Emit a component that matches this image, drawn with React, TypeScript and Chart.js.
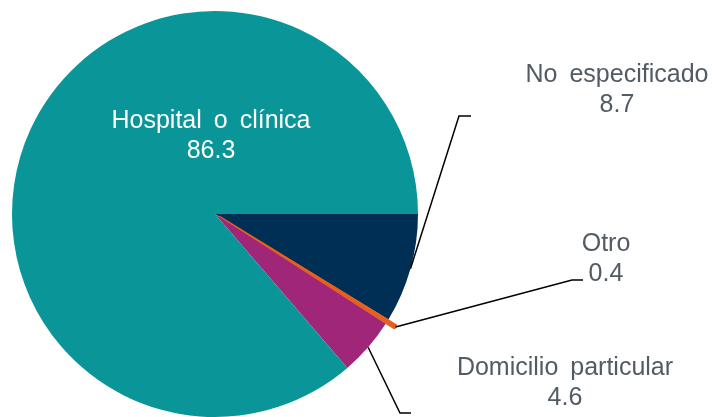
import React, { useEffect, useRef } from "react";
import { Chart, registerables } from "chart.js";

Chart.register(...registerables);

// ---- data ----
const categories = ["No especificado", "Otro", "Domicilio particular", "Hospital o clínica"];
const values = [8.7, 0.4, 4.6, 86.3];
const valueLabels = ["8.7", "0.4", "4.6", "86.3"];

// ---- styles ----
const sliceColors = ["#002F56", "#E8601C", "#A0267A", "#0A9699"];
const sliceOffsets = [0, 20, 0, 0];
const sliceBorders = [0, 2, 0, 0];
const labelColor = "#525A63";
const FONT = "25px 'Liberation Sans', Arial, sans-serif";

// label layout, in px relative to the pie centre: text centre x, first baseline y,
// leader elbow and leader end (null = label inside the pie, no leader)
const labelLayout = [
  { tx: 402, ty: -132, elbow: [244, -98], end: [256, -98], color: labelColor },
  { tx: 391, ty: 37, elbow: [357, 66], end: [368, 66], color: labelColor },
  { tx: 350, ty: 161, elbow: [185, 199], end: [196, 199], color: labelColor },
  { tx: -4, ty: -86, elbow: null, end: null, color: "#FFFFFF" },
];
const LINE_GAP = 29.5;

const labelPlugin = {
  id: "pieLabels",
  afterDatasetsDraw(chart: any) {
    const ctx = chart.ctx;
    const meta = chart.getDatasetMeta(0);
    ctx.save();
    meta.data.forEach((el: any, i: number) => {
      const p = el.getProps(["x", "y", "startAngle", "endAngle", "outerRadius"], true);
      const lay = labelLayout[i];
      const cx = p.x;
      const cy = p.y;
      if (lay.elbow && lay.end) {
        const mid = (p.startAngle + p.endAngle) / 2;
        const ext = (el.options.offset || 0) / 2;
        const r = p.outerRadius + ext;
        const sx = cx + Math.cos(mid) * r;
        const sy = cy + Math.sin(mid) * r;
        ctx.beginPath();
        ctx.moveTo(sx, sy);
        ctx.lineTo(cx + lay.elbow[0], cy + lay.elbow[1]);
        ctx.lineTo(cx + lay.end[0], cy + lay.end[1]);
        ctx.strokeStyle = "#000000";
        ctx.lineWidth = 1.5;
        ctx.stroke();
      }
      ctx.font = FONT;
      try {
        (ctx as any).wordSpacing = "5px";
      } catch (e) {}
      ctx.fillStyle = lay.color;
      ctx.textAlign = "center";
      ctx.textBaseline = "alphabetic";
      ctx.fillText(categories[i], cx + lay.tx, cy + lay.ty);
      ctx.fillText(valueLabels[i], cx + lay.tx, cy + lay.ty + LINE_GAP);
    });
    ctx.restore();
  },
};

export default function App() {
  const ref = useRef<HTMLCanvasElement | null>(null);
  useEffect(() => {
    if (!ref.current) return;
    const chart = new Chart(ref.current, {
      type: "pie",
      data: {
        labels: categories,
        datasets: [
          {
            data: values,
            backgroundColor: sliceColors,
            borderColor: sliceColors,
            borderWidth: sliceBorders,
            offset: sliceOffsets,
            hoverOffset: 0,
          },
        ],
      },
      options: {
        responsive: false,
        animation: false,
        rotation: 90,
        layout: { padding: { left: 1, top: 0, right: 285, bottom: 2 } },
        plugins: {
          legend: { display: false },
          tooltip: { enabled: false },
        },
        events: [],
      },
      plugins: [labelPlugin],
    });
    return () => chart.destroy();
  }, []);
  return (
    <div
      style={{
        position: "fixed",
        left: 0,
        top: 0,
        width: 714,
        height: 417,
        overflow: "hidden",
        background: "#ffffff",
      }}
    >
      <canvas ref={ref} width={714} height={430} style={{ display: "block", width: 714, height: 430 }} />
    </div>
  );
}
